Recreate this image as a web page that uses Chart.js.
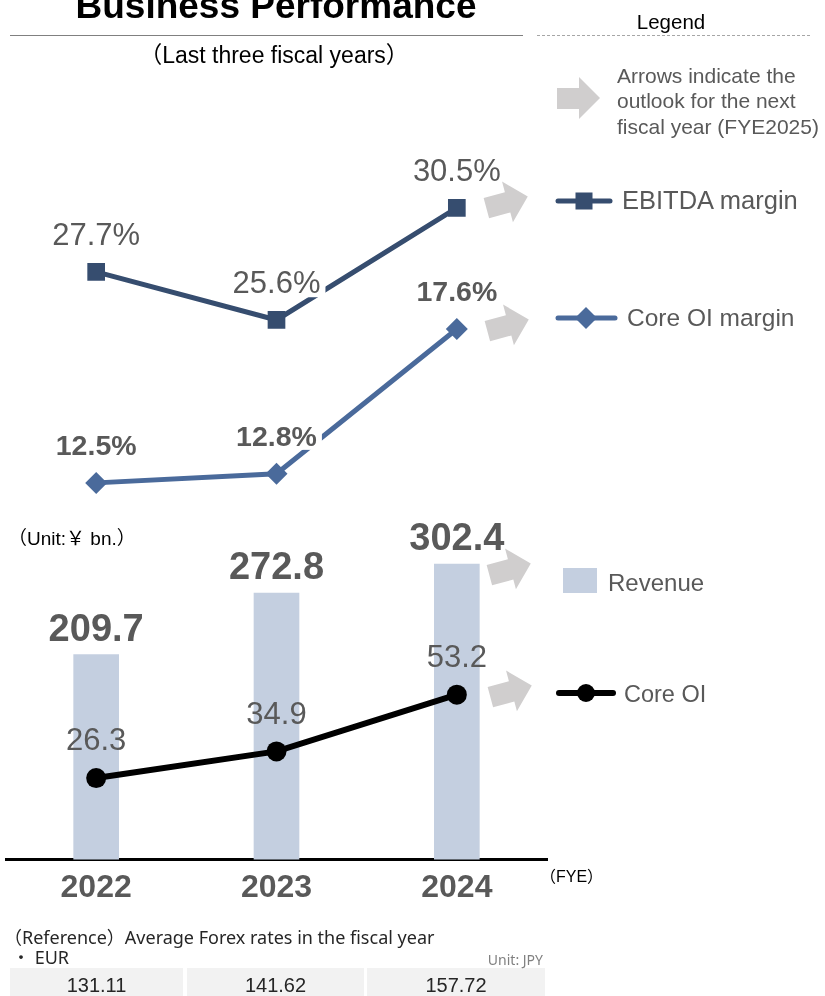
<!DOCTYPE html>
<html>
<head>
<meta charset="utf-8">
<script src="https://cdn.jsdelivr.net/npm/chart.js@4.4.1/dist/chart.umd.min.js"></script>
<style>
  html, body { margin: 0; padding: 0; background: #fff; }
  #page { position: relative; width: 825px; height: 996px; overflow: hidden;
          font-family: "Liberation Sans", Arial, "Noto Sans CJK JP", sans-serif; }
  .txt { position: absolute; white-space: nowrap; }
  .note { font-family: "Noto Sans", "Noto Sans CJK JP", sans-serif; }
  canvas { position: absolute; left: 0; }
  #marginChart { top: 140px; }
  #revenueChart { top: 500px; }
  .rule { position: absolute; height: 0; }
  .cell { position: absolute; top: 968px; height: 40px; background: #f2f2f2; }
  svg { position: absolute; left: 0; top: 0; }
</style>
</head>
<body>
<div id="page">
  <div class="rule" style="left:10px; width:513px; top:35px; border-top:1px solid #808080;"></div>
  <div class="rule" style="left:537px; width:273px; top:35px; border-top:1px dashed #a6a6a6;"></div>
  <div class="cell" style="left:10px; width:173px;"></div>
  <div class="cell" style="left:187px; width:177px;"></div>
  <div class="cell" style="left:367px; width:178px;"></div>
  <canvas id="marginChart" width="600" height="380"></canvas>
  <canvas id="revenueChart" width="600" height="416"></canvas>
  <svg width="825" height="996">
    <g fill="#d0cece">
      <polygon points="0,11 22,11 22,0 43,21 22,42 22,32 0,32" transform="translate(557,77)"/>
      <polygon points="0,11 22,11 22,0 43,21 22,42 22,32 0,32" transform="translate(507,202) rotate(-15) translate(-21.5,-21)"/>
      <polygon points="0,11 22,11 22,0 43,21 22,42 22,32 0,32" transform="translate(508,325) rotate(-15) translate(-21.5,-21)"/>
      <polygon points="0,11 22,11 22,0 43,21 22,42 22,32 0,32" transform="translate(510,569) rotate(-15) translate(-21.5,-21)"/>
      <polygon points="0,11 22,11 22,0 43,21 22,42 22,32 0,32" transform="translate(511,691) rotate(-15) translate(-21.5,-21)"/>
    </g>
    <!-- legend keys -->
    <line x1="558" y1="201" x2="610" y2="201" stroke="#364d6f" stroke-width="5" stroke-linecap="round"/>
    <rect x="575.5" y="192.5" width="17" height="17" fill="#364d6f"/>
    <line x1="558" y1="318" x2="615" y2="318" stroke="#4a6a9b" stroke-width="5" stroke-linecap="round"/>
    <polygon points="586,307 597,318 586,329 575,318" fill="#4a6a9b"/>
    <rect x="563" y="568" width="34" height="25" fill="#c4cfe0"/>
    <line x1="559" y1="693" x2="613" y2="693" stroke="#000" stroke-width="6" stroke-linecap="round"/>
    <circle cx="586" cy="693" r="9" fill="#000"/>
  </svg>
</div>
<script>
// fiscal years and the figures plotted for them
var years = ['2022', '2023', '2024'];
var ebitdaMargin = [27.7, 25.6, 30.5];
var coreOiMargin = [12.5, 12.8, 17.6];
var revenue = [209.7, 272.8, 302.4];
var coreOi = [26.3, 34.9, 53.2];
var eurRates = ['131.11', '141.62', '157.72'];

var FONT = '"Liberation Sans", Arial, "Noto Sans CJK JP", sans-serif';
var GREY = '#595959';

// plain text blocks, placed by the vertical middle of the capitals
function put(txt, x, yc, size, o) {
  o = o || {};
  var d = document.createElement('div');
  d.className = 'txt' + (o.note ? ' note' : '');
  d.textContent = txt;
  d.style.fontSize = size + 'px';
  d.style.lineHeight = size + 'px';
  d.style.top = (yc - 0.4885 * size) + 'px';
  d.style.color = o.color || '#000';
  if (o.bold) d.style.fontWeight = 'bold';
  if (o.align === 'center') {
    d.style.left = x + 'px';
    d.style.transform = 'translateX(-50%)';
  } else if (o.align === 'right') {
    d.style.right = (825 - x) + 'px';
  } else {
    d.style.left = x + 'px';
  }
  document.getElementById('page').appendChild(d);
}

put('Business Performance', 276, 5, 37, {bold: true, align: 'center'});
put('（Last three fiscal years）', 274, 55, 23, {align: 'center'});
put('Legend', 671, 22, 20.5, {align: 'center'});
put('Arrows indicate the', 617, 75, 21, {color: GREY});
put('outlook for the next', 617, 100, 21, {color: GREY});
put('fiscal year (FYE2025)', 617, 126, 21, {color: GREY});
put('EBITDA margin', 622, 200, 25.5, {color: GREY});
put('Core OI margin', 627, 318, 24.5, {color: GREY});
put('（Unit:￥ bn.）', 8, 538, 19);
put('Revenue', 608, 583, 24, {color: GREY});
put('Core OI', 624, 694, 23.5, {color: GREY});
put('（FYE）', 540, 877, 16);
put('（Reference）Average Forex rates in the fiscal year', 4, 937, 18, {color: '#262626', note: true});
put('・ EUR', 12, 957, 18, {color: '#262626', note: true});
put('Unit: JPY', 543, 960, 14, {color: '#808080', align: 'right', note: true});
var cellMid = [96.5, 275.5, 456];
eurRates.forEach(function (r, i) {
  put(r, cellMid[i], 985, 20, {color: '#262626', align: 'center'});
});

// value labels above each point / bar, optionally on a white patch
var valueLabels = {
  id: 'valueLabels',
  afterDatasetsDraw: function (chart) {
    var ctx = chart.ctx;
    chart.data.datasets.forEach(function (ds, i) {
      var lab = ds.valueLabel;
      if (!lab) return;
      chart.getDatasetMeta(i).data.forEach(function (el, j) {
        var txt = lab.format(ds.data[j]);
        var mid = el.y - lab.offset;
        ctx.save();
        ctx.font = lab.weight + ' ' + lab.size + 'px ' + FONT;
        ctx.textAlign = 'center';
        ctx.textBaseline = 'alphabetic';
        if (lab.box) {
          var w = ctx.measureText(txt).width;
          ctx.fillStyle = '#fff';
          ctx.fillRect(el.x - w / 2 - 5, mid - lab.size * 0.5, w + 10, lab.size);
        }
        ctx.fillStyle = GREY;
        ctx.fillText(txt, el.x, mid + lab.size * 0.358);
        ctx.restore();
      });
    });
  }
};

var pct = function (v) { return v.toFixed(1) + '%'; };
var num = function (v) { return v.toFixed(1); };

new Chart(document.getElementById('marginChart'), {
  type: 'line',
  data: {
    labels: years,
    datasets: [{
      label: 'EBITDA margin',
      data: ebitdaMargin,
      yAxisID: 'yE',
      borderColor: '#364d6f',
      backgroundColor: '#364d6f',
      borderWidth: 5,
      pointStyle: 'rect',
      pointRadius: 12.5,
      pointBorderWidth: 0,
      valueLabel: {format: pct, size: 31, weight: 'normal', offset: 38.2, box: true}
    }, {
      label: 'Core OI margin',
      data: coreOiMargin,
      yAxisID: 'yC',
      borderColor: '#4a6a9b',
      backgroundColor: '#4a6a9b',
      borderWidth: 5,
      pointStyle: 'rectRot',
      pointRadius: 11,
      pointBorderWidth: 0,
      valueLabel: {format: pct, size: 28.5, weight: 'bold', offset: 38.2, box: true}
    }]
  },
  options: {
    responsive: false,
    animation: false,
    layout: {autoPadding: false, padding: {left: 6, right: 53, top: 0, bottom: 0}},
    plugins: {legend: {display: false}, tooltip: {enabled: false}},
    scales: {
      x: {display: false, offset: true},
      yE: {display: false, min: 16.85, max: 33.47},
      yC: {display: false, min: 11.27, max: 23.86}
    }
  },
  plugins: [valueLabels]
});

new Chart(document.getElementById('revenueChart'), {
  type: 'bar',
  data: {
    labels: years,
    datasets: [{
      type: 'line',
      label: 'Core OI',
      data: coreOi,
      yAxisID: 'yLine',
      order: 1,
      borderColor: '#000',
      backgroundColor: '#000',
      borderWidth: 6,
      pointRadius: 10,
      pointBorderWidth: 0,
      valueLabel: {format: num, size: 31, weight: 'normal', offset: 39, box: false}
    }, {
      label: 'Revenue',
      data: revenue,
      yAxisID: 'yBar',
      order: 2,
      backgroundColor: '#c4cfe0',
      barThickness: 45,
      valueLabel: {format: num, size: 38, weight: 'bold', offset: 27.5, box: false}
    }]
  },
  options: {
    responsive: false,
    animation: false,
    layout: {autoPadding: false, padding: {left: 6, right: 53, top: 0, bottom: 0}},
    plugins: {legend: {display: false}, tooltip: {enabled: false}},
    scales: {
      x: {
        offset: true,
        grid: {display: false, drawTicks: false},
        border: {display: true, color: '#000', width: 3},
        ticks: {color: GREY, padding: 9, font: {family: FONT, size: 32, weight: 'bold'}}
      },
      yBar: {display: false, min: 0, max: 368},
      yLine: {display: false, min: 0, max: 116}
    }
  },
  plugins: [valueLabels]
});
</script>
</body>
</html>
